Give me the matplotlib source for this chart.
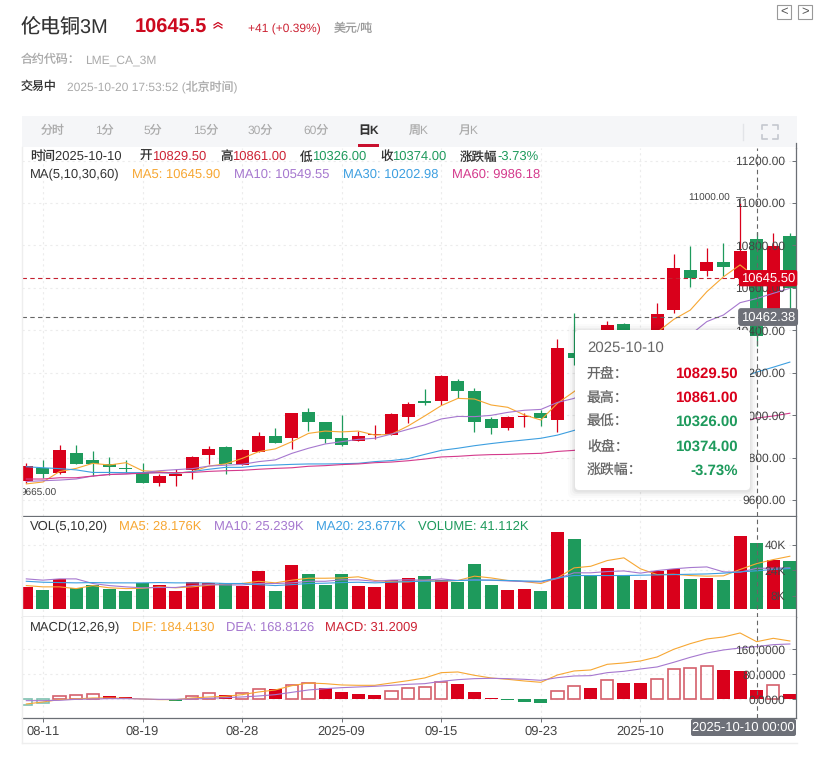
#!/usr/bin/env python3

import numpy as np
import matplotlib
matplotlib.use("Agg")
import matplotlib.pyplot as plt
from matplotlib.patches import FancyBboxPatch, Rectangle

plt.rcParams["font.family"] = ["Liberation Sans", "Noto Sans CJK SC", "DejaVu Sans"]
plt.rcParams["font.size"] = 9
plt.rcParams["text.hinting"] = "no_hinting"
plt.rcParams["text.hinting_factor"] = 1

W, H = 827, 758

# daily candles, 47 sessions (values behind the tooltip are estimates)
opens = [9691, 9749, 9726, 9822, 9789, 9768, 9751, 9729, 9680, 9715, 9740, 9812,
         9850, 9767, 9828, 9902, 9892, 10015, 9966, 9892, 9880, 9906, 9908, 9993,
         10067, 10068, 10161, 10114, 9982, 9941, 9991, 10010, 9979, 10293, 10340, 10330,
         10428, 10330, 10380, 10496, 10684, 10681, 10722, 10645, 10829.5, 10496, 10844]
closes = [9760, 9723, 9836, 9770, 9770, 9757, 9748, 9680, 9713, 9724, 9803, 9841,
          9770, 9836, 9902, 9870, 10010, 9969, 9889, 9861, 9902, 9911, 10005, 10052,
          10059, 10184, 10114, 9969, 9941, 9991, 9996, 9987, 10316, 10271, 10290, 10425,
          10360, 10385, 10477, 10693, 10648, 10722, 10700, 10774, 10374, 10797, 10598]
highs = [9773, 9789, 9859, 9859, 9831, 9803, 9789, 9773, 9721, 9745, 9808, 9855,
         9855, 9841, 9921, 9939, 10010, 10032, 9966, 9999, 9927, 9954, 10009, 10060,
         10123, 10188, 10169, 10128, 9990, 9996, 10012, 10024, 10359, 10483, 10370, 10444,
         10433, 10395, 10530, 10759, 10797, 10788, 10810, 11000, 10861, 10857, 10857]
lows = [9679, 9705, 9723, 9770, 9715, 9718, 9729, 9679, 9666, 9665, 9701, 9770,
        9724, 9767, 9828, 9870, 9842, 9925, 9870, 9855, 9880, 9886, 9908, 9961,
        10048, 10048, 10079, 9922, 9911, 9930, 9946, 9950, 9922, 10236, 10250, 10300,
        10340, 10300, 10350, 10483, 10605, 10657, 10657, 10630, 10326, 10480, 10496]

ma5 = [9676, 9685, 9734, 9749, 9773, 9765, 9776, 9738, 9734, 9726, 9734, 9760,
       9770, 9796, 9828, 9841, 9875, 9914, 9925, 9921, 9925, 9906, 9910, 9949,
       9996, 10045, 10079, 10076, 10048, 10037, 10001, 9977, 10056, 10111, 10170, 10220,
       10270, 10300, 10390, 10451, 10495, 10582, 10652, 10708, 10646, 10650, 10640]
ma10 = [9687, 9691, 9694, 9699, 9713, 9721, 9723, 9729, 9738, 9743, 9748, 9760,
        9764, 9768, 9781, 9789, 9820, 9844, 9864, 9875, 9886, 9891, 9911, 9933,
        9954, 9982, 9994, 9993, 9999, 10013, 10023, 10027, 10060, 10079, 10125, 10170,
        10210, 10250, 10290, 10330, 10378, 10441, 10472, 10530, 10549.55, 10574, 10598]
ma30 = [9757, 9752, 9748, 9742, 9730, 9730, 9729, 9729, 9729, 9726, 9734, 9745,
        9754, 9754, 9762, 9765, 9768, 9770, 9770, 9771, 9773, 9781, 9786, 9795,
        9815, 9834, 9844, 9856, 9866, 9875, 9883, 9891, 9906, 9928, 9950, 9975,
        10000, 10025, 10050, 10075, 10100, 10125, 10150, 10175, 10202.98, 10226, 10250]
ma60 = [9699, 9699, 9705, 9705, 9713, 9720, 9723, 9726, 9729, 9729, 9730, 9735,
        9738, 9740, 9745, 9749, 9752, 9759, 9762, 9767, 9770, 9776, 9779, 9785,
        9793, 9803, 9806, 9811, 9814, 9815, 9818, 9820, 9829, 9834, 9846, 9858,
        9870, 9882, 9895, 9908, 9922, 9935, 9948, 9965, 9986.18, 9996, 10009]

volume = [13.4, 11.9, 18.4, 12.7, 15, 12.5, 11.3, 16.1, 15, 10.9, 16.9, 15.9,
          15.9, 14.4, 23.8, 10.7, 27, 21.9, 14.6, 21.9, 14.4, 13.2, 17.8, 19.4,
          20.7, 17.8, 16.7, 28.2, 15, 11.9, 12.5, 11.3, 48.3, 43.3, 20.7, 25.7,
          21.3, 18.2, 23.6, 24.7, 18.8, 19, 18.2, 45.8, 41.112, 30.3, 29.5]
vol_ma5 = [14.4, 13.6, 13.6, 12.5, 14.4, 13, 12.5, 12.7, 13.6, 13, 13.6, 14.6,
           15.5, 15.7, 17.1, 16.1, 17.8, 19, 19, 19.2, 19.9, 17.6, 16.9, 16.7,
           17.6, 17.1, 17.6, 20.3, 19.2, 17.6, 16.9, 15.7, 19.2, 25.5, 26.5, 30.1,
           31.8, 24.9, 21.3, 21.5, 20.7, 20.3, 20.5, 24.5, 28.176, 30.7, 32.8]
vol_ma10 = [18.6, 17.8, 18.6, 18.6, 15.7, 14.4, 13.6, 13, 13.2, 13.2, 14.4, 15,
            14.8, 14.8, 15.7, 15.7, 16.1, 17.1, 17.1, 18, 18, 17.1, 17.8, 18,
            17.8, 18.6, 17.6, 18, 17.8, 17.3, 16.9, 16.7, 18.8, 22.4, 22.4, 23.2,
            23.6, 22.2, 23.8, 24.9, 25.7, 26.1, 23, 22.8, 25.239, 25.3, 25.5]
vol_ma20 = [17.1, 16.5, 16.3, 16.1, 16.3, 16.1, 16.1, 16.1, 16.3, 16.1, 16.1, 16.1,
            15.7, 15.7, 15, 14.4, 15, 15.7, 15.9, 16.3, 16.5, 16.1, 16.5, 16.9,
            17.1, 17.3, 17.6, 17.8, 17.8, 17.6, 17.3, 17.1, 19.2, 20.7, 20.7, 20.7,
            20.7, 20.9, 21.1, 21.3, 21.5, 21.7, 22.2, 23, 23.677, 24.5, 25.1]

macd = [-17, -11.7, 9.6, 12.8, 17, 11.7, 7.5, 0.5, -2, -4.3, 9.6, 19.2,
        13.9, 19.2, 32, 32, 46.9, 52.3, 36.3, 24.5, 18.1, 14.9, 25.6, 35.2,
        39.5, 54.4, 50.1, 24.5, 5.3, -2, -9.6, -12.8, 25.6, 41.6, 37.3, 60.8,
        53.3, 53, 65, 97, 100.3, 106.7, 95, 91.7, 31.2, 44.8, 18.1]
dif = [-14.9, -8.5, -1, 1, 4.3, 4.3, 3.2, 1, -1, -1, 4.3, 7.5,
       9.6, 14.9, 23.5, 29.9, 43.7, 52.3, 50.1, 45.9, 44.8, 44.8, 52.3, 59.7,
       68.3, 85.3, 87.5, 76.8, 68.3, 64, 58.7, 54.4, 77.9, 90.7, 93.9, 112,
       116.3, 122.7, 135.5, 160, 178.1, 193.1, 199.5, 212.3, 184.41, 195.2, 186.7]
dea = [-4.3, -4.3, -3.2, 0, 1, 2.1, 2.1, 1, 0, 0, 1, 3.2,
       5.3, 7.5, 10.7, 14.9, 22.4, 29.9, 34.1, 37.3, 39.5, 41.6, 44.8, 48,
       50.1, 57.6, 62.9, 66.1, 67.2, 66.1, 64, 60.8, 69.3, 74.7, 75.7, 85.3,
       89.6, 97.1, 103.5, 118.4, 134.4, 148.3, 157.9, 164.3, 168.81, 174.9, 177.1]

date_ticks = [1, 7, 13, 19, 25, 31, 37]
date_labels = ["08-11", "08-19", "08-28", "2025-09", "09-15", "09-23", "2025-10"]
price_ticks = [9600, 9800, 10000, 10200, 10400, 10600, 10800, 11000, 11200]
vol_ticks = [8, 24, 40]
macd_ticks = [0, 80, 160]

last_price = 10645.5
cross_price = 10462.38
cross_idx = 44

RED = "#d9001b"
GREEN = "#1e9a5c"
ORANGE = "#f7a733"
PURPLE = "#a678cf"
BLUE = "#3d9fe0"
PINK = "#d43a8c"
GRID = "#ececec"
EDGE = "#6b6f75"
LINE_W = 0.8

x = np.arange(len(opens))
is_up = np.array(closes) >= np.array(opens)
bar_colors = [RED if u else GREEN for u in is_up]

fig = plt.figure(figsize=(W / 100, H / 100), dpi=100, facecolor="white")


def px_axes(left, top, right, bottom):
    return fig.add_axes([left / W, 1 - bottom / H, (right - left) / W, (bottom - top) / H])


def style_panel(ax, yticks, fmt):
    for side in ("top", "left"):
        ax.spines[side].set_visible(False)
    for side in ("right", "bottom"):
        ax.spines[side].set_color(EDGE)
        ax.spines[side].set_linewidth(0.9)
    ax.set_xlim(-0.26, 46.37)
    ax.set_axisbelow(False)
    ax.yaxis.tick_right()
    ax.set_yticks(yticks)
    ax.set_yticklabels([fmt(v) for v in yticks], ha="right", color="#444", fontsize=8.9)
    ax.tick_params(axis="y", direction="in", length=3, width=0.7, color=EDGE, pad=-7.5)
    ax.set_xticks(date_ticks)
    ax.tick_params(axis="x", length=0, labelbottom=False)
    ax.hlines(yticks, -0.26, 46.37, color=GRID, lw=0.8, linestyles=(0, (2, 3)), zorder=0.5)
    ax.vlines(date_ticks, *ax.get_ylim(), color=GRID, lw=0.8, linestyles=(0, (2, 3)), zorder=0.5)
    ax.axvline(cross_idx, color="#666", lw=0.8, ls=(0, (4, 3)), zorder=4)


# main panel
ax = px_axes(22, 148, 796, 516)
ax.set_ylim(9524.7, 11259)
style_panel(ax, price_ticks, lambda v: f"{v:.2f}")
ax.vlines(x, lows, highs, color=bar_colors, lw=0.9, zorder=1)
ax.bar(x, np.array(closes) - np.array(opens), bottom=opens, width=0.78, color=bar_colors, zorder=1.2)
ax.plot(x, ma5, color=ORANGE, lw=LINE_W, zorder=2)
ax.plot(x, ma10, color=PURPLE, lw=LINE_W, zorder=2)
ax.plot(x, ma30, color=BLUE, lw=LINE_W, zorder=2)
ax.plot(x, ma60, color=PINK, lw=LINE_W, zorder=2)
ax.axhline(last_price, xmax=0.96, color="#c4202f", lw=0.8, ls=(0, (4, 3)), zorder=3)
ax.axhline(cross_price, color="#666", lw=0.8, ls=(0, (4, 3)), zorder=3)
ax.text(0.999, last_price, f"{last_price:.2f}", transform=ax.get_yaxis_transform(), ha="right", va="center",
        color="white", fontsize=9.3, zorder=6,
        bbox=dict(boxstyle="round,pad=0.16", fc=RED, ec="none"))
ax.text(0.999, cross_price, f"{cross_price:.2f}", transform=ax.get_yaxis_transform(), ha="right", va="center",
        color="white", fontsize=9.3, zorder=6,
        bbox=dict(boxstyle="round,pad=0.22", fc="#6d7078", ec="none"))
ax.text(42.4, 11024, "11000.00", ha="right", va="center", fontsize=7.4, color="#444", zorder=3)
ax.plot([43, 43], [11000, 11028], color="#777", lw=0.7, zorder=3)
ax.plot([42.75, 43.25], [11028, 11028], color="#777", lw=0.7, zorder=3)
ax.text(1.83, 9632, "9665.00", ha="right", va="center", fontsize=7.5, color="#444", zorder=3, clip_on=True)

# volume panel
ax_vol = px_axes(22, 517, 796, 617)
ax_vol.set_ylim(-5.3, 57.4)
style_panel(ax_vol, vol_ticks, lambda v: f"{v}K")
ax_vol.bar(x, volume, width=0.78, color=bar_colors, zorder=1.2)
ax_vol.plot(x, vol_ma5, color=ORANGE, lw=LINE_W, zorder=2)
ax_vol.plot(x, vol_ma10, color=PURPLE, lw=LINE_W, zorder=2)
ax_vol.plot(x, vol_ma20, color=BLUE, lw=LINE_W, zorder=2)

# macd panel, bars are hollow while the value is rising
ax_macd = px_axes(22, 617, 796, 718)
ax_macd.set_ylim(-59.8, 263.4)
style_panel(ax_macd, macd_ticks, lambda v: f"{v:.4f}")
for i, v in enumerate(macd):
    rising = i == 0 or v > macd[i - 1]
    col = RED if v >= 0 else GREEN
    if rising:
        edge = "#d4606c" if v >= 0 else "#7fc0b0"
        ax_macd.bar(i, v, width=0.74, facecolor="none", edgecolor=edge, lw=1.2, zorder=1.2)
    else:
        ax_macd.bar(i, v, width=0.78, color=col, zorder=1.2)
ax_macd.plot(x, dif, color=ORANGE, lw=LINE_W, zorder=2)
ax_macd.plot(x, dea, color=PURPLE, lw=LINE_W, zorder=2)
ax_macd.set_xticklabels(date_labels, color="#444", fontsize=9)
ax_macd.tick_params(axis="x", length=3, width=0.7, color=EDGE, labelbottom=True, pad=2.5)

# page furniture on top, in pixel coordinates
ui = fig.add_axes([0, 0, 1, 1], facecolor="none")
ui.set_xlim(0, W)
ui.set_ylim(H, 0)
ui.axis("off")


def label(px, py, s, color="#333", size=8.6, **kw):
    ui.text(px, py, s, color=color, fontsize=size, va="center", **kw)


ui.add_patch(Rectangle((22, 116), 775, 31, fc="#f5f6f8", ec="none", zorder=0))
ui.plot([22, 22], [147, 743], color="#eeeeee", lw=1, zorder=0)
ui.plot([22, 797], [743, 743], color="#eeeeee", lw=1, zorder=0)
ui.plot([796, 796], [143, 148], color=EDGE, lw=0.9, zorder=1)

label(21, 28, "伦电铜3M", size=14.4)
label(135, 28, "10645.5", color="#cc0a1f", size=14.2, fontweight="bold")
ui.plot([214, 218, 222], [25, 22.5, 25], color="#cc0a1f", lw=0.9)
ui.plot([214, 218, 222], [28, 25.5, 28], color="#cc0a1f", lw=0.9)
label(248, 29, "+41 (+0.39%)", color="#cc2233")
label(334, 29, "美元/吨", color="#999999")
label(21, 60, "合约代码：", color="#aaaaaa")
label(85, 60, "LME_CA_3M", color="#aaaaaa")
label(21, 87, "交易中")
label(67, 87, "2025-10-20 17:53:52 (北京时间)", color="#aaaaaa", size=8.6)

# top right arrows
for bx, s in ((777, "<"), (798, ">")):
    ui.add_patch(Rectangle((bx, 5), 14, 14, fc="white", ec="#999999", lw=0.8))
    ui.text(bx + 7, 11.5, s, ha="center", va="center", fontsize=9, color="#555555")

tab_x = [41, 95, 144, 193, 248, 303, 358, 409, 459]
tab_names = ["分时", "1分", "5分", "15分", "30分", "60分", "日K", "周K", "月K"]
for tx, name in zip(tab_x, tab_names):
    active = name == "日K"
    label(tx, 131, name, color="#333333" if active else "#aaaaaa",
          fontweight="bold" if active else "normal")
ui.add_patch(Rectangle((358, 144), 21, 2.5, fc="#c8102e", ec="none"))
ui.plot([742.5, 742.5], [124, 140], color="#e2e4e8", lw=1)
for cx, cy, dx, dy in ((762, 125, 1, 1), (778, 125, -1, 1), (762, 139, 1, -1), (778, 139, -1, -1)):
    ui.plot([cx + 5 * dx, cx, cx], [cy, cy, cy + 4 * dy], color="#c4c8cf", lw=1.2)

# info rows
INFO = 9.0
label(30, 157, "时间2025-10-10", size=INFO)
for tx, name, val, col in ((140, "开", "10829.50", "#cc2233"), (220, "高", "10861.00", "#cc2233"),
                           (300, "低", "10326.00", GREEN), (380, "收", "10374.00", GREEN)):
    label(tx, 157, name, size=INFO)
    label(tx + 12.5, 157, val, color=col, size=INFO)
label(460, 157, "涨跌幅", size=INFO)
label(497, 157, "-3.73%", color=GREEN, size=INFO)

label(30, 175, "MA(5,10,30,60)", size=INFO)
label(132, 175, "MA5: 10645.90", color=ORANGE, size=INFO)
label(234, 175, "MA10: 10549.55", color=PURPLE, size=INFO)
label(343, 175, "MA30: 10202.98", color=BLUE, size=INFO)
label(452, 175, "MA60: 9986.18", color=PINK, size=INFO)

label(30, 527, "VOL(5,10,20)", size=INFO)
label(119, 527, "MA5: 28.176K", color=ORANGE, size=INFO)
label(214, 527, "MA10: 25.239K", color=PURPLE, size=INFO)
label(316, 527, "MA20: 23.677K", color=BLUE, size=INFO)
label(418, 527, "VOLUME: 41.112K", color=GREEN, size=INFO)

label(30, 628, "MACD(12,26,9)", size=INFO)
label(132, 628, "DIF: 184.4130", color=ORANGE, size=INFO)
label(226, 628, "DEA: 168.8126", color=PURPLE, size=INFO)
label(325, 628, "MACD: 31.2009", color="#cc2233", size=INFO)

# crosshair date
ui.add_patch(FancyBboxPatch((691, 719), 105, 17, boxstyle="round,pad=0,rounding_size=2", fc="#6d7078", ec="none"))
ui.text(743.5, 727.5, "2025-10-10 00:00", color="white", fontsize=9, ha="center", va="center")

# tooltip with a soft shadow
for grow, alpha in ((7, 0.015), (5, 0.02), (3, 0.03), (1.5, 0.04)):
    ui.add_patch(FancyBboxPatch((575 - grow, 330 - grow + 1), 175 + 2 * grow, 160 + 2 * grow,
                                boxstyle="round,pad=0,rounding_size=5", fc="black", ec="none", alpha=alpha, zorder=7))
ui.add_patch(FancyBboxPatch((575, 330), 175, 160, boxstyle="round,pad=0,rounding_size=4",
                            fc="white", ec="none", zorder=8))
ui.text(587, 348, "2025-10-10", color="#666666", fontsize=10.8, va="center", zorder=9)
rows = [("开盘：", "10829.50", RED), ("最高：", "10861.00", RED), ("最低：", "10326.00", GREEN),
        ("收盘：", "10374.00", GREEN), ("涨跌幅：", "-3.73%", GREEN)]
for ry, (name, val, col) in zip((374, 398, 422, 447, 471), rows):
    ui.text(587, ry, name, color="#666666", fontsize=10, va="center", zorder=9)
    ui.text(738, ry, val, color=col, fontsize=10.8, fontweight="bold", ha="right", va="center", zorder=9)

fig.savefig("out.png", dpi=100)
